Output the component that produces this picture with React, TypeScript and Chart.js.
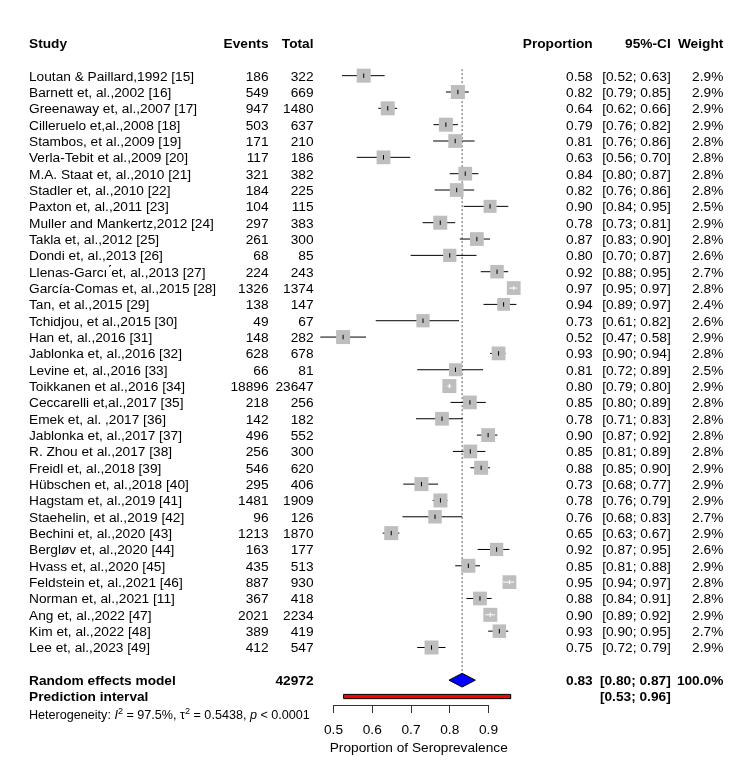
import React, { useEffect, useRef } from "react";
import { Chart, registerables } from "chart.js";
Chart.register(...registerables);

// ---------- data ----------
const studies = [
  "Loutan & Paillard,1992 [15]",
  "Barnett et, al.,2002 [16]",
  "Greenaway et, al.,2007 [17]",
  "Cilleruelo et,al.,2008 [18]",
  "Stambos, et al.,2009 [19]",
  "Verla-Tebit et al.,2009 [20]",
  "M.A. Staat et, al.,2010 [21]",
  "Stadler et, al.,2010 [22]",
  "Paxton et, al.,2011 [23]",
  "Muller and Mankertz,2012 [24]",
  "Takla et, al.,2012 [25]",
  "Dondi et, al.,2013 [26]",
  "Llenas-Garc\u0131 \u0301et, al.,2013 [27]",
  "García-Comas et, al.,2015 [28]",
  "Tan, et al.,2015 [29]",
  "Tchidjou, et al.,2015 [30]",
  "Han et, al.,2016 [31]",
  "Jablonka et, al.,2016 [32]",
  "Levine et, al.,2016 [33]",
  "Toikkanen et al.,2016 [34]",
  "Ceccarelli et,al.,2017 [35]",
  "Emek et, al. ,2017 [36]",
  "Jablonka et, al.,2017 [37]",
  "R. Zhou et al.,2017 [38]",
  "Freidl et, al.,2018 [39]",
  "Hübschen et, al.,2018 [40]",
  "Hagstam et, al.,2019 [41]",
  "Staehelin, et al.,2019 [42]",
  "Bechini et, al.,2020 [43]",
  "Bergløv et, al.,2020 [44]",
  "Hvass et, al.,2020 [45]",
  "Feldstein et, al.,2021 [46]",
  "Norman et, al.,2021 [11]",
  "Ang et, al.,2022 [47]",
  "Kim et, al.,2022 [48]",
  "Lee et, al.,2023 [49]",
];
const events = [186, 549, 947, 503, 171, 117, 321, 184, 104, 297, 261, 68, 224, 1326, 138, 49, 148, 628, 66, 18896, 218, 142, 496, 256, 546, 295, 1481, 96, 1213, 163, 435, 887, 367, 2021, 389, 412];
const totals = [322, 669, 1480, 637, 210, 186, 382, 225, 115, 383, 300, 85, 243, 1374, 147, 67, 282, 678, 81, 23647, 256, 182, 552, 300, 620, 406, 1909, 126, 1870, 177, 513, 930, 418, 2234, 419, 547];
const proportions = [0.578, 0.821, 0.64, 0.79, 0.814, 0.629, 0.84, 0.818, 0.904, 0.7755, 0.87, 0.8, 0.922, 0.9651, 0.939, 0.731, 0.5248, 0.926, 0.8148, 0.799, 0.852, 0.78, 0.899, 0.853, 0.881, 0.727, 0.776, 0.762, 0.649, 0.921, 0.848, 0.954, 0.878, 0.9047, 0.928, 0.753];
const lowerCI = [0.522, 0.79, 0.6155, 0.758, 0.757, 0.56, 0.8, 0.761, 0.836, 0.73, 0.826, 0.699, 0.88, 0.953, 0.887, 0.609, 0.466, 0.904, 0.716, 0.794, 0.802, 0.713, 0.87, 0.808, 0.853, 0.68, 0.756, 0.678, 0.627, 0.872, 0.814, 0.938, 0.843, 0.892, 0.899, 0.716];
const upperCI = [0.632, 0.849, 0.664, 0.821, 0.864, 0.698, 0.874, 0.863, 0.951, 0.814, 0.904, 0.869, 0.951, 0.974, 0.972, 0.824, 0.584, 0.944, 0.886, 0.804, 0.893, 0.834, 0.923, 0.892, 0.904, 0.77, 0.794, 0.832, 0.67, 0.954, 0.878, 0.966, 0.908, 0.917, 0.951, 0.789];
const weights = [2.9, 2.9, 2.9, 2.9, 2.8, 2.8, 2.8, 2.8, 2.5, 2.9, 2.8, 2.6, 2.7, 2.8, 2.4, 2.6, 2.9, 2.8, 2.5, 2.9, 2.8, 2.8, 2.8, 2.8, 2.9, 2.9, 2.9, 2.7, 2.9, 2.6, 2.9, 2.8, 2.8, 2.9, 2.7, 2.9];

const pooled = [0.832, 0.798, 0.866]; // estimate, lower, upper
const predictionInterval = [0.526, 0.957];
const pooledTotal = 42972;
const pooledWeight = "100.0%";
const hetI2 = "97.5%";
const hetTau2 = "0.5438";
const hetP = "< 0.0001";

const headers = ["Study", "Events", "Total", "Proportion", "95%-CI", "Weight"];
const xTicks = [0.5, 0.6, 0.7, 0.8, 0.9];
const xTitle = "Proportion of Seroprevalence";
const summaryLabel = "Random effects model";
const predictionLabel = "Prediction interval";

// ---------- layout / style ----------
const W = 750;
const H = 772;
const FONT = "'Liberation Sans', Arial, Helvetica, sans-serif";
const FS = 13.7;
const FS_HET = 12.6;
const AXIS_LO = 0.5;
const AXIS_HI = 0.9;
const PX_AXIS_LO = 333.5;
const PX_PER_UNIT = 387.5;
const AREA_MIN = 0.44;
const AREA_MAX = 1.0;
const AREA_LEFT = PX_AXIS_LO + (AREA_MIN - AXIS_LO) * PX_PER_UNIT;
const AREA_RIGHT = PX_AXIS_LO + (AREA_MAX - AXIS_LO) * PX_PER_UNIT;
const AXIS_Y = 705;
const Y_MIN = -4.025;
const Y_MAX = 38.52;
const COL = { study: 29, events: 268.5, total: 313.5, prop: 592.7, ci: 670.7, weight: 723.3 };
const SQUARE_FULL = 14;
const SQUARE_GRAY = "#BEBEBE";

const f2 = (v: number) => v.toFixed(2);
const ciText = (lo: number, hi: number) => `[${f2(lo)}; ${f2(hi)}]`;

export default function App() {
  const ref = useRef<HTMLCanvasElement>(null);

  useEffect(() => {
    if (!ref.current) return;
    const n = studies.length;
    const rows = studies.map((_, i) => i);
    const HEAD_ROW = -2;
    const SUM_ROW = n + 1;
    const PI_ROW = n + 2;
    const HET_ROW = n + 3.1;
    const side = (w: number) => SQUARE_FULL * Math.sqrt(w / 2.9);
    const inside = rows.map((i) => {
      const half = side(weights[i]) / 2 / PX_PER_UNIT;
      return proportions[i] - lowerCI[i] < half && upperCI[i] - proportions[i] < half;
    });

    const ciData: any[] = [];
    const whiteData: any[] = [];
    rows.forEach((i) => {
      const target = inside[i] ? whiteData : ciData;
      target.push({ x: lowerCI[i], y: i }, { x: upperCI[i], y: i }, { x: NaN, y: null });
    });

    const dh = 0.42;
    const ph = 0.13;
    const [pe, plo, phi] = pooled;
    const [pilo, pihi] = predictionInterval;

    const textPlugin = {
      id: "forestText",
      afterDraw(chart: any) {
        const ctx = chart.ctx;
        const ys = chart.scales.y;
        const xs = chart.scales.x;
        const yb = (r: number, fs = FS) => ys.getPixelForValue(r) + fs * 0.358;
        const txt = (s: string, x: number, r: number, align: CanvasTextAlign, bold = false) => {
          ctx.font = `${bold ? "bold " : ""}${FS}px ${FONT}`;
          ctx.textAlign = align;
          ctx.fillText(s, x, yb(r));
        };
        ctx.save();
        // axis line between first and last tick
        ctx.strokeStyle = "#333";
        ctx.lineWidth = 1;
        ctx.beginPath();
        const ay = Math.round(xs.top) + 0.5;
        ctx.moveTo(xs.getPixelForValue(AXIS_LO), ay);
        ctx.lineTo(xs.getPixelForValue(AXIS_HI), ay);
        ctx.stroke();

        ctx.fillStyle = "#000";
        ctx.textBaseline = "alphabetic";
        // headers
        txt(headers[0], COL.study, HEAD_ROW, "left", true);
        txt(headers[1], COL.events, HEAD_ROW, "right", true);
        txt(headers[2], COL.total, HEAD_ROW, "right", true);
        txt(headers[3], COL.prop, HEAD_ROW, "right", true);
        txt(headers[4], COL.ci, HEAD_ROW, "right", true);
        txt(headers[5], COL.weight, HEAD_ROW, "right", true);
        // rows
        rows.forEach((i) => {
          txt(studies[i], COL.study, i, "left");
          txt(String(events[i]), COL.events, i, "right");
          txt(String(totals[i]), COL.total, i, "right");
          txt(f2(proportions[i]), COL.prop, i, "right");
          txt(ciText(lowerCI[i], upperCI[i]), COL.ci, i, "right");
          txt(weights[i].toFixed(1) + "%", COL.weight, i, "right");
        });
        // summary
        txt(summaryLabel, COL.study, SUM_ROW, "left", true);
        txt(String(pooledTotal), COL.total, SUM_ROW, "right", true);
        txt(f2(pe), COL.prop, SUM_ROW, "right", true);
        txt(ciText(plo, phi), COL.ci, SUM_ROW, "right", true);
        txt(pooledWeight, COL.weight, SUM_ROW, "right", true);
        txt(predictionLabel, COL.study, PI_ROW, "left", true);
        txt(ciText(pilo, pihi), COL.ci, PI_ROW, "right", true);
        // heterogeneity
        const parts: { t: string; st?: string; sup?: boolean }[] = [
          { t: "Heterogeneity: " },
          { t: "I", st: "italic" },
          { t: "2", sup: true },
          { t: ` = ${hetI2}, \u03c4` },
          { t: "2", sup: true },
          { t: ` = ${hetTau2}, ` },
          { t: "p", st: "italic" },
          { t: ` ${hetP}` },
        ];
        let hx = COL.study;
        const hy = yb(HET_ROW, FS_HET);
        ctx.textAlign = "left";
        parts.forEach((p) => {
          const fs = p.sup ? FS_HET * 0.72 : FS_HET;
          ctx.font = `${p.st ? p.st + " " : ""}${fs}px ${FONT}`;
          ctx.fillText(p.t, hx, p.sup ? hy - FS_HET * 0.42 : hy);
          hx += ctx.measureText(p.t).width;
        });
        // x title
        ctx.font = `${FS}px ${FONT}`;
        ctx.textAlign = "center";
        ctx.fillText(xTitle, xs.getPixelForValue(0.72), 752);
        ctx.restore();
      },
    };

    const chart = new Chart(ref.current, {
      type: "line",
      data: {
        datasets: [
          {
            label: "ref",
            data: [{ x: pe, y: -0.4 }, { x: pe, y: SUM_ROW - dh }],
            borderColor: "#808080",
            borderWidth: 1.3,
            borderDash: [2, 2],
            pointRadius: 0,
            clip: false,
            order: 10,
          },
          {
            label: "ci",
            data: ciData,
            borderColor: "#000",
            borderWidth: 1,
            pointRadius: 0,
            spanGaps: false,
            clip: false,
            order: 9,
          },
          {
            label: "squares",
            data: rows.map((i) => ({ x: proportions[i], y: i })),
            showLine: false,
            pointStyle: "rect",
            pointRadius: rows.map((i) => side(weights[i]) / Math.SQRT2),
            pointBackgroundColor: SQUARE_GRAY,
            pointBorderWidth: 0,
            clip: false,
            order: 8,
          },
          {
            label: "white",
            data: whiteData,
            borderColor: "#fff",
            borderWidth: 1,
            pointRadius: 0,
            spanGaps: false,
            clip: false,
            order: 7,
          },
          {
            label: "ticks",
            data: rows.map((i) => ({ x: proportions[i], y: i })),
            showLine: false,
            pointStyle: "line",
            pointRotation: 90,
            pointRadius: 2.2,
            pointBorderWidth: 1,
            pointBorderColor: rows.map((i) => (inside[i] ? "#fff" : "#000")),
            clip: false,
            order: 6,
          },
          {
            label: "diamond",
            data: [
              { x: plo, y: SUM_ROW },
              { x: pe, y: SUM_ROW - dh },
              { x: phi, y: SUM_ROW },
              { x: pe, y: SUM_ROW + dh },
              { x: plo, y: SUM_ROW },
            ],
            fill: "shape",
            backgroundColor: "#0000FF",
            borderColor: "#000",
            borderWidth: 1,
            pointRadius: 0,
            tension: 0,
            clip: false,
            order: 5,
          },
          {
            label: "prediction",
            data: [
              { x: pilo, y: PI_ROW - ph },
              { x: pihi, y: PI_ROW - ph },
              { x: pihi, y: PI_ROW + ph },
              { x: pilo, y: PI_ROW + ph },
              { x: pilo, y: PI_ROW - ph },
            ],
            fill: "shape",
            backgroundColor: "#FF0000",
            borderColor: "#000",
            borderWidth: 1,
            pointRadius: 0,
            tension: 0,
            clip: false,
            order: 5,
          },
        ] as any,
      },
      options: {
        responsive: false,
        animation: false,
        devicePixelRatio: 1,
        events: [],
        layout: {
          padding: {
            left: AREA_LEFT,
            right: W - AREA_RIGHT,
            top: 0,
            bottom: H - AXIS_Y - (8 + FS * 1.2 + 18),
          },
        },
        plugins: { legend: { display: false }, tooltip: { enabled: false } },
        scales: {
          x: {
            type: "linear",
            min: AREA_MIN,
            max: AREA_MAX,
            afterBuildTicks: (axis: any) => {
              axis.ticks = xTicks.map((v) => ({ value: v }));
            },
            ticks: {
              padding: 9,
              color: "#000",
              font: { family: FONT, size: FS },
              callback: (v: any) => Number(v).toFixed(1),
              maxRotation: 0,
              autoSkip: false,
            },
            grid: { drawOnChartArea: false, drawTicks: true, tickLength: 8, tickColor: "#333", tickWidth: 1 },
            border: { display: false },
          },
          y: {
            type: "linear",
            display: false,
            reverse: true,
            min: Y_MIN,
            max: Y_MAX,
          },
        },
      } as any,
      plugins: [textPlugin],
    });
    return () => chart.destroy();
  }, []);

  return (
    <div style={{ position: "absolute", left: 0, top: 0, width: W, height: H, background: "#fff" }}>
      <canvas ref={ref} width={W} height={H} style={{ display: "block" }} />
    </div>
  );
}
